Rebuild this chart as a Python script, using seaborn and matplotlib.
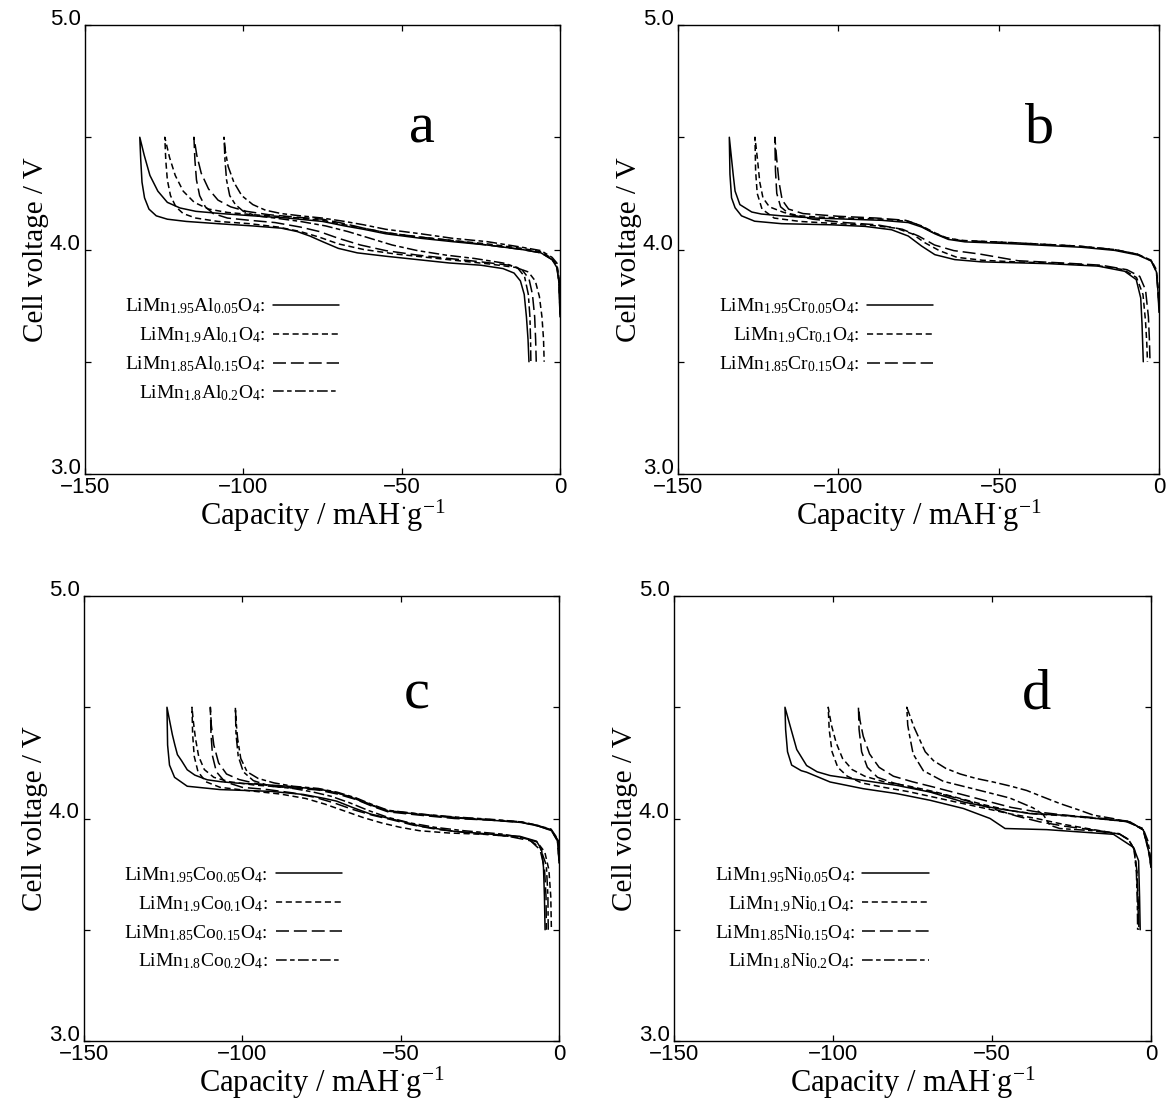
import numpy as np
import pandas as pd
import seaborn as sns
import matplotlib
matplotlib.use("Agg")
import matplotlib.pyplot as plt
from matplotlib.lines import Line2D
from matplotlib.transforms import ScaledTranslation

# ---------------------------------------------------------------------------
# Charge/discharge curves (capacity in mAh/g, voltage in V).
# Each path runs from the start of charge (capacity 0) to the 4.5 V cut-off,
# then back along the discharge branch down to 3.5 V.
# ---------------------------------------------------------------------------

# (a) LiMn2-xAlxO4
al005_cap = [0, -0.3, -1, -2.5, -6, -12, -23, -34, -44, -55, -62, -68, -75, -86, -97, -107, -115, -120, -124, -127,
             -129.5, -131.3, -132.7,
             -132.4, -132.0, -131.2, -129.8, -127.5, -124, -118, -108, -97, -88, -83, -79, -75, -70, -64, -55, -45,
             -35, -25, -18, -14.5, -12.5, -11.3, -10.6, -10.1, -9.8]
al005_v = [3.70, 3.85, 3.92, 3.955, 3.985, 4.0, 4.02, 4.035, 4.05, 4.07, 4.09, 4.105, 4.125, 4.14, 4.15, 4.16, 4.17,
           4.185, 4.21, 4.26, 4.33, 4.42, 4.50,
           4.40, 4.30, 4.23, 4.18, 4.15, 4.135, 4.125, 4.115, 4.105, 4.095, 4.08, 4.06, 4.035, 4.005, 3.985, 3.97,
           3.955, 3.94, 3.93, 3.915, 3.895, 3.86, 3.80, 3.70, 3.60, 3.50]

al01_cap = [0, -0.3, -1, -2.5, -6, -12, -23, -34, -44, -55, -62, -68, -75, -86, -97, -105, -111, -115.5, -119, -121.5,
            -123.3, -124.8,
            -124.5, -124.0, -123.0, -121.3, -119, -115, -108, -98, -89, -82, -76, -70, -62, -52, -42, -32, -22, -14,
            -10, -7.8, -6.5, -5.7, -5.2, -5.0]
al01_v = [3.72, 3.86, 3.93, 3.96, 3.99, 4.005, 4.025, 4.04, 4.055, 4.075, 4.095, 4.11, 4.13, 4.145, 4.155, 4.165, 4.18,
          4.21, 4.26, 4.33, 4.41, 4.50,
          4.40, 4.31, 4.24, 4.19, 4.16, 4.14, 4.125, 4.115, 4.10, 4.08, 4.055, 4.025, 4.0, 3.98, 3.965, 3.95, 3.935,
          3.92, 3.90, 3.86, 3.79, 3.70, 3.60, 3.50]

al015_cap = [0, -0.3, -1, -2.5, -6, -12, -23, -34, -44, -55, -62, -68, -75, -84, -92, -99, -104, -108, -111, -113.3,
             -114.7, -115.6,
             -115.3, -114.8, -113.8, -112, -109.5, -105, -98, -90, -82, -76, -70, -63, -55, -45, -35, -25, -16, -12,
             -9.8, -8.7, -8.0, -7.7, -7.5]
al015_v = [3.71, 3.85, 3.925, 3.955, 3.985, 4.0, 4.02, 4.04, 4.055, 4.075, 4.095, 4.115, 4.135, 4.145, 4.155, 4.17,
           4.19, 4.22, 4.27, 4.34, 4.42, 4.50,
           4.40, 4.31, 4.24, 4.19, 4.16, 4.14, 4.13, 4.12, 4.10, 4.08, 4.05, 4.02, 3.995, 3.975, 3.96, 3.945, 3.93,
           3.91, 3.87, 3.80, 3.70, 3.60, 3.50]

al02_cap = [0, -0.3, -1, -2.5, -6, -12, -23, -34, -44, -55, -62, -68, -75, -82, -88, -93, -97, -100.5, -103, -104.8,
            -105.7, -106.1,
            -105.8, -105.3, -104.3, -102.5, -100, -96, -90, -82, -74, -67, -60, -53, -45, -36, -27, -18, -13.5,
            -11.2, -10.0, -9.5, -9.3, -9.2]
al02_v = [3.74, 3.87, 3.94, 3.965, 3.995, 4.01, 4.035, 4.05, 4.07, 4.09, 4.11, 4.125, 4.14, 4.15, 4.16, 4.175, 4.2,
          4.24, 4.3, 4.37, 4.44, 4.50,
          4.40, 4.31, 4.24, 4.20, 4.17, 4.15, 4.14, 4.125, 4.105, 4.08, 4.05, 4.02, 3.995, 3.975, 3.96, 3.94, 3.92,
          3.88, 3.80, 3.70, 3.60, 3.50]

# (b) LiMn2-xCrxO4
cr005_cap = [0, -0.3, -0.8, -2.3, -6.5, -13.8, -24.2, -44.9, -60.5, -65.7, -69.9, -74.0, -78.2, -86.5, -96.9, -107.3,
             -117.7, -124, -127.0, -130.7, -132.2, -132.8, -134.0,
             -133.8, -133.3, -132.2, -130.2, -126.1, -117.7, -102.1, -91.7, -83.4, -78.2, -74.0, -69.9, -63.7, -55.4,
             -34.6, -19.0, -10.7, -7.1, -5.7, -5.3, -4.9]
cr005_v = [3.72, 3.81, 3.90, 3.948, 3.975, 3.996, 4.01, 4.025, 4.034, 4.045, 4.07, 4.10, 4.12, 4.13, 4.135, 4.14,
           4.15, 4.158, 4.167, 4.20, 4.26, 4.335, 4.50,
           4.335, 4.23, 4.186, 4.15, 4.126, 4.115, 4.11, 4.103, 4.088, 4.06, 4.015, 3.977, 3.955, 3.945,
           3.937, 3.926, 3.903, 3.866, 3.784, 3.67, 3.50]

cr01_cap = [0, -0.3, -0.8, -2.4, -6.8, -14, -25, -45, -61, -66, -70, -74, -78, -86, -97, -107, -112, -117, -121.5,
            -123.5, -124.5, -125.2, -126.0,
            -125.8, -125.3, -123.8, -120, -112, -100, -90, -82, -77, -73, -68.5, -63, -55, -45, -34, -20, -11, -7,
            -5.0, -4.2, -3.8, -3.6]
cr01_v = [3.74, 3.83, 3.91, 3.952, 3.98, 4.0, 4.015, 4.03, 4.04, 4.05, 4.075, 4.105, 4.125, 4.135, 4.14, 4.145, 4.15,
          4.165, 4.19, 4.23, 4.30, 4.40, 4.50,
          4.35, 4.25, 4.18, 4.14, 4.125, 4.115, 4.108, 4.095, 4.07, 4.03, 3.995, 3.965, 3.952, 3.945, 3.94, 3.93,
          3.91, 3.875, 3.80, 3.68, 3.58, 3.50]

cr015_cap = [0, -0.8, -2.5, -7, -14, -25, -45, -62, -67, -71, -75, -79, -88, -100, -111, -115.5, -117.5, -118.5,
             -119.2, -119.8,
             -119.6, -119.2, -118.0, -115, -108, -98, -88, -80, -75, -70, -64, -56, -50, -44, -30, -18, -10, -6,
             -4.2, -3.3, -3.0, -2.8]
cr015_v = [3.75, 3.90, 3.95, 3.98, 4.0, 4.015, 4.03, 4.04, 4.055, 4.08, 4.11, 4.13, 4.14, 4.148, 4.16, 4.18, 4.22,
           4.30, 4.40, 4.50,
           4.35, 4.25, 4.19, 4.155, 4.135, 4.12, 4.11, 4.09, 4.06, 4.02, 3.995, 3.98, 3.965, 3.95, 3.94, 3.93, 3.91,
           3.88, 3.82, 3.70, 3.60, 3.50]

# (c) LiMn2-xCoxO4
co005_cap = [0, -0.2, -2.3, -6.5, -11.8, -22, -33, -43.5, -54, -59.3, -64.6, -70, -75, -85.6, -96.1, -101.6, -106.6,
             -111.1, -115, -117.4, -119.2, -120.5, -121.3, -122.1, -123.8,
             -123.6, -123.0, -121.4, -117.4, -107, -91, -80.7, -74, -70.2, -64.9, -59.5, -54.4, -49, -43.9, -33.4,
             -22, -12.4, -7.1, -5.5, -4.9, -4.6, -4.4]
co005_v = [3.80, 3.90, 3.945, 3.966, 3.982, 3.993, 4.003, 4.018, 4.033, 4.06, 4.09, 4.115, 4.13, 4.145, 4.155, 4.159,
           4.165, 4.174, 4.195, 4.219, 4.26, 4.287, 4.33, 4.377, 4.50,
           4.33, 4.24, 4.185, 4.145, 4.13, 4.122, 4.108, 4.09, 4.078, 4.048, 4.02, 4.003, 3.985, 3.966, 3.943,
           3.93, 3.92, 3.898, 3.86, 3.78, 3.65, 3.50]

co01_cap = [0, -0.5, -2.5, -7, -12, -22, -33, -44, -54, -59, -64, -70, -76, -86, -96, -104, -109, -112, -113.8, -114.8,
            -115.5, -115.9,
            -115.7, -115.2, -114.0, -111.5, -107, -98, -88, -80, -74, -68, -62, -56, -50, -44, -35, -22, -12, -7,
            -4.5, -3.2, -2.6, -2.4]
co01_v = [3.82, 3.90, 3.95, 3.97, 3.985, 3.995, 4.005, 4.02, 4.035, 4.06, 4.09, 4.115, 4.13, 4.14, 4.15, 4.165, 4.185,
          4.22, 4.28, 4.36, 4.44, 4.50,
          4.38, 4.28, 4.21, 4.165, 4.14, 4.125, 4.11, 4.09, 4.065, 4.035, 4.005, 3.98, 3.96, 3.945, 3.935, 3.928,
          3.915, 3.895, 3.85, 3.77, 3.65, 3.50]

co015_cap = [0, -0.5, -2.5, -7, -12, -22, -33, -44, -54, -59, -64, -70, -76, -86, -95, -101, -105, -107.5, -109,
             -109.8, -110.1,
             -109.9, -109.4, -108.2, -105.5, -100, -92, -84, -77, -71, -65, -59, -53, -46, -38, -28, -16, -9, -6, -4.6,
             -4.1, -4.0]
co015_v = [3.81, 3.90, 3.948, 3.968, 3.983, 3.993, 4.0, 4.015, 4.03, 4.055, 4.085, 4.11, 4.128, 4.14, 4.155, 4.175,
           4.2, 4.25, 4.33, 4.42, 4.50,
           4.38, 4.28, 4.21, 4.165, 4.14, 4.13, 4.115, 4.095, 4.07, 4.04, 4.015, 3.995, 3.97, 3.95, 3.935, 3.92,
           3.90, 3.86, 3.78, 3.65, 3.50]

co02_cap = [0, -0.5, -2.5, -7, -12, -22, -33, -44, -54, -59, -64, -70, -76, -84, -90, -95, -98.5, -100.5, -101.5,
            -102, -102.2,
            -102.0, -101.3, -99.7, -96.5, -91, -84, -78, -72, -66, -60, -54, -47, -39, -30, -18, -10, -6, -4.0,
            -3.5, -3.4]
co02_v = [3.82, 3.91, 3.952, 3.97, 3.985, 3.997, 4.007, 4.02, 4.037, 4.063, 4.092, 4.118, 4.135, 4.145, 4.16, 4.18,
          4.21, 4.27, 4.36, 4.44, 4.50,
          4.38, 4.28, 4.21, 4.17, 4.145, 4.135, 4.12, 4.10, 4.07, 4.035, 4.005, 3.98, 3.96, 3.945, 3.93, 3.91, 3.87,
          3.79, 3.65, 3.50]

# (d) LiMn2-xNixO4
ni005_cap = [0, -0.5, -1.0, -2.4, -6.6, -17.1, -27.6, -38, -48.5, -59, -69.5, -80, -90.5, -100.9, -105, -108.3,
             -111.4, -113.5, -115.1,
             -114.9, -114.3, -113.0, -110, -108.3, -100.9, -90.5, -80, -69.5, -59, -50.6, -45.9, -32.8, -11.8, -5.5,
             -3.9, -3.6, -3.4]
ni005_v = [3.78, 3.84, 3.866, 3.948, 3.985, 4.0, 4.015, 4.022, 4.045, 4.074, 4.119, 4.149, 4.171, 4.193, 4.21, 4.238,
           4.31, 4.417, 4.50,
           4.40, 4.30, 4.24, 4.215, 4.208, 4.164, 4.134, 4.112, 4.082, 4.045, 4.0, 3.955, 3.95, 3.929, 3.87, 3.81,
           3.65, 3.50]

ni01_cap = [0, -0.4, -1, -2.5, -7, -17, -27, -36, -44, -52, -60, -68, -76, -84, -90, -94, -97, -99, -100.5, -101.5,
            -101.2, -100.3, -98.5, -95.5, -91, -84, -76, -68, -60, -52, -44, -36, -28, -18, -10, -7, -5.3, -4.5,
            -4.1, -3.9]
ni01_v = [3.78, 3.82, 3.87, 3.95, 3.985, 4.0, 4.012, 4.02, 4.035, 4.06, 4.09, 4.12, 4.145, 4.165, 4.19, 4.22, 4.27,
          4.34, 4.42, 4.50,
          4.40, 4.30, 4.23, 4.19, 4.16, 4.14, 4.12, 4.095, 4.07, 4.045, 4.02, 4.0, 3.975, 3.95, 3.93, 3.905, 3.86,
          3.76, 3.62, 3.50]

ni015_cap = [0, -0.4, -1, -2.5, -7, -17, -27, -36, -44, -52, -60, -68, -75, -81, -85.5, -88.5, -90.5, -91.5, -92,
             -91.8, -91.0, -89.2, -86, -81, -74, -66, -58, -50, -42, -35, -27, -18, -10, -7, -5.2, -4.4, -4.0, -3.8]
ni015_v = [3.79, 3.83, 3.88, 3.95, 3.988, 4.003, 4.015, 4.03, 4.05, 4.08, 4.11, 4.14, 4.165, 4.19, 4.23, 4.29, 4.37,
           4.44, 4.50,
           4.40, 4.30, 4.23, 4.185, 4.16, 4.135, 4.11, 4.08, 4.045, 4.01, 3.985, 3.965, 3.948, 3.932, 3.905, 3.86,
           3.76, 3.62, 3.50]

ni02_cap = [0, -0.4, -1, -2.5, -7.6, -12, -18.1, -23, -28.6, -34, -39.1, -44, -49.6, -55, -60, -64.5, -68.4, -71,
            -72.6, -74.5, -76.8,
            -76.5, -76.0, -74.8, -71.6, -65.3, -54.9, -44.4, -37.1, -33.9, -31.8, -28.7, -18.2, -10, -7, -5.3, -4.6,
            -4.3, -4.2]
ni02_v = [3.80, 3.85, 3.90, 3.955, 3.985, 4.0, 4.015, 4.04, 4.067, 4.097, 4.126, 4.145, 4.164, 4.18, 4.2, 4.225, 4.26,
          4.30, 4.35, 4.41, 4.50,
          4.42, 4.379, 4.29, 4.215, 4.167, 4.13, 4.092, 4.048, 4.018, 3.97, 3.955, 3.945, 3.93, 3.905, 3.86, 3.76,
          3.62, 3.50]

# Legend labels and panel letters
al_labels = [r"LiMn$_{1.95}$Al$_{0.05}$O$_4$:", r"LiMn$_{1.9}$Al$_{0.1}$O$_4$:",
             r"LiMn$_{1.85}$Al$_{0.15}$O$_4$:", r"LiMn$_{1.8}$Al$_{0.2}$O$_4$:"]
cr_labels = [r"LiMn$_{1.95}$Cr$_{0.05}$O$_4$:", r"LiMn$_{1.9}$Cr$_{0.1}$O$_4$:",
             r"LiMn$_{1.85}$Cr$_{0.15}$O$_4$:"]
co_labels = [r"LiMn$_{1.95}$Co$_{0.05}$O$_4$:", r"LiMn$_{1.9}$Co$_{0.1}$O$_4$:",
             r"LiMn$_{1.85}$Co$_{0.15}$O$_4$:", r"LiMn$_{1.8}$Co$_{0.2}$O$_4$:"]
ni_labels = [r"LiMn$_{1.95}$Ni$_{0.05}$O$_4$:", r"LiMn$_{1.9}$Ni$_{0.1}$O$_4$:",
             r"LiMn$_{1.85}$Ni$_{0.15}$O$_4$:", r"LiMn$_{1.8}$Ni$_{0.2}$O$_4$:"]
panel_letters = ["a", "b", "c", "d"]
x_ticks = [-150, -100, -50, 0]
y_ticks = [3.0, 3.5, 4.0, 4.5, 5.0]

# ---------------------------------------------------------------------------
sns.set_theme(style="ticks")
plt.rcParams.update({
    "font.family": ["Liberation Sans", "DejaVu Sans"],
    "mathtext.fontset": "custom",
    "mathtext.rm": "Liberation Serif",
    "mathtext.it": "Liberation Serif:italic",
    "mathtext.bf": "Liberation Serif:bold",
    "axes.linewidth": 1.0,
    "axes.edgecolor": "black",
    "text.color": "black",
    "axes.labelcolor": "black",
    "xtick.color": "black",
    "ytick.color": "black",
})
SERIF = ["Liberation Serif", "DejaVu Serif"]

dash_styles = ["", (4.0, 2.4), (8.5, 3.2), (7.0, 2.2, 3.0, 2.2)]
LW = 1.1

fig = plt.figure(figsize=(11.72, 11.07), dpi=100)
rects = [
    [85 / 1172, 1 - 474 / 1107, 475 / 1172, 449 / 1107],
    [678 / 1172, 1 - 474 / 1107, 481 / 1172, 449 / 1107],
    [84 / 1172, 1 - 1041 / 1107, 475 / 1172, 445 / 1107],
    [674 / 1172, 1 - 1041 / 1107, 477 / 1172, 445 / 1107],
]

panels = [
    ([al005_cap, al01_cap, al015_cap, al02_cap], [al005_v, al01_v, al015_v, al02_v], al_labels,
     (-43.5, 4.478)),
    ([cr005_cap, cr01_cap, cr015_cap], [cr005_v, cr01_v, cr015_v], cr_labels, (-37.4, 4.478)),
    ([co005_cap, co01_cap, co015_cap, co02_cap], [co005_v, co01_v, co015_v, co02_v], co_labels,
     (-44.9, 4.495)),
    ([ni005_cap, ni01_cap, ni015_cap, ni02_cap], [ni005_v, ni01_v, ni015_v, ni02_v], ni_labels,
     (-35.9, 4.495)),
]

for i, (caps, volts, labels, letter_xy) in enumerate(panels):
    ax = fig.add_axes(rects[i])
    frames = []
    for k, (c, v) in enumerate(zip(caps, volts)):
        frames.append(pd.DataFrame({"capacity": c, "voltage": v, "sample": labels[k]}))
    df = pd.concat(frames, ignore_index=True)
    dmap = {labels[k]: dash_styles[k] for k in range(len(labels))}
    sns.lineplot(data=df, x="capacity", y="voltage", style="sample", dashes=dmap,
                 color="black", lw=LW, sort=False, estimator=None, legend=False, ax=ax)

    ax.set_xlim(-150, 0)
    ax.set_ylim(3.0, 5.0)
    ax.set_xticks(x_ticks)
    ax.set_xticklabels(["\u2212150", "\u2212100", "\u221250", "0"])
    ax.set_yticks(y_ticks)
    ax.set_yticklabels(["3.0", "", "4.0", "", "5.0"])
    ax.tick_params(direction="in", length=4.5, width=0.9, top=True, right=True,
                   labelsize=16, pad=2, colors="black")
    ax.tick_params(axis="y", pad=3)
    # y tick labels sit slightly above their ticks
    for lab in ax.get_yticklabels():
        lab.set_transform(lab.get_transform() + ScaledTranslation(0, 8 / 100, fig.dpi_scale_trans))

    ax.set_xlabel(r"Capacity / mAH$^{\cdot}$g$^{-1}$", family=SERIF, fontsize=22, labelpad=0)
    ax.set_ylabel("Cell voltage / V", family=SERIF, fontsize=21, labelpad=1)
    for s in ax.spines.values():
        s.set_color("black")

    ax.text(letter_xy[0], letter_xy[1], panel_letters[i], family=SERIF, fontsize=42,
            ha="center", va="baseline", color="black")

    handles = [Line2D([0], [0], color="black", lw=LW,
                      linestyle=(0, dash_styles[k]) if dash_styles[k] else "-")
               for k in range(len(labels))]
    ax.legend(handles, labels, loc="upper left", bbox_to_anchor=(0.085, 0.395),
              frameon=False, markerfirst=False, handlelength=3.4, handletextpad=0.4,
              labelspacing=0.47, borderaxespad=0.0, borderpad=0.0,
              prop={"family": SERIF, "size": 14})

fig.savefig("out.png", dpi=100, facecolor="white")
